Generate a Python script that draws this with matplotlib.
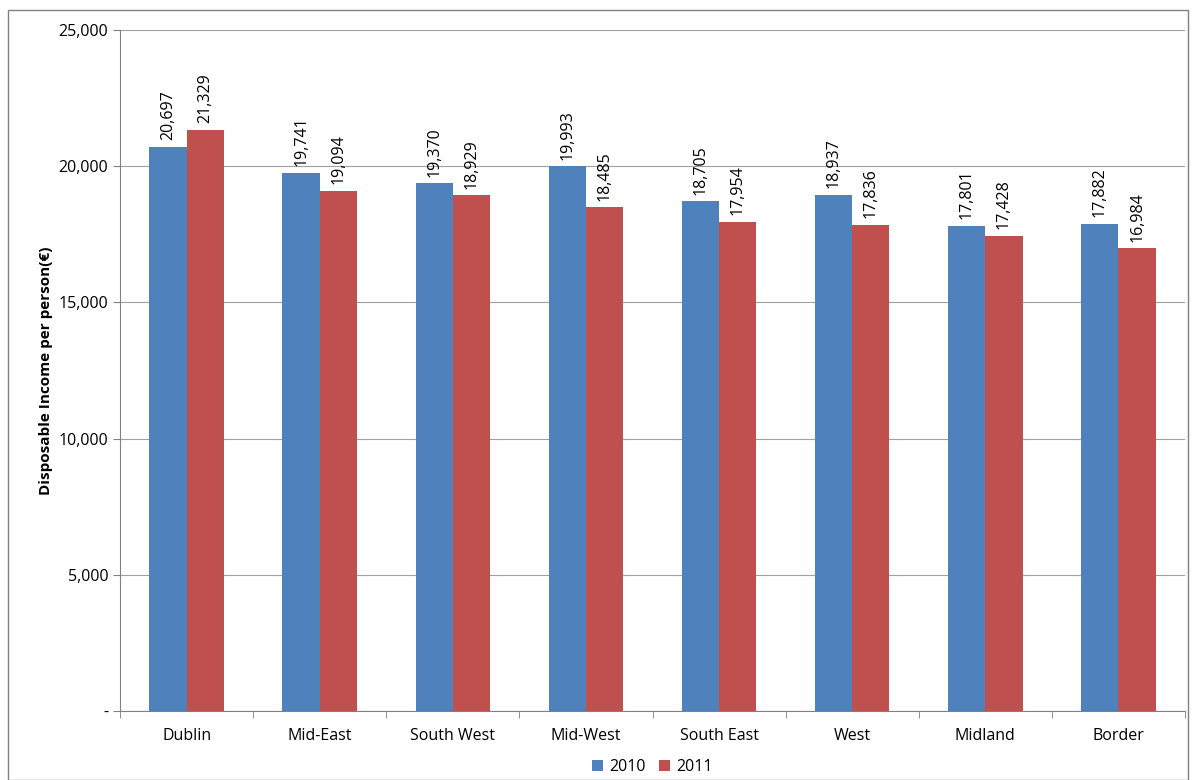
import matplotlib.pyplot as plt
import numpy as np
from matplotlib.patches import Rectangle
from matplotlib.ticker import FuncFormatter

regions = ['Dublin', 'Mid-East', 'South West', 'Mid-West', 'South East', 'West', 'Midland', 'Border']
income_2010 = [20697, 19741, 19370, 19993, 18705, 18937, 17801, 17882]
income_2011 = [21329, 19094, 18929, 18485, 17954, 17836, 17428, 16984]

plt.rcParams['font.family'] = ['Open Sans', 'DejaVu Sans']
fig = plt.figure(figsize=(11.96, 7.8), dpi=100)
fig.patches.append(Rectangle((8/1196, 0), 1180/1196, 1 - 10/780, transform=fig.transFigure,
                             fill=False, edgecolor='#808080', linewidth=1))
ax = fig.add_axes([120/1196, 69/780, 1065/1196, 681/780])

x = np.arange(len(regions))
w = 0.28
b1 = ax.bar(x - w/2, income_2010, w, color='#4F81BD', label='2010')
b2 = ax.bar(x + w/2, income_2011, w, color='#C0504D', label='2011')
for bars in (b1, b2):
    for r in bars:
        ax.text(r.get_x() + r.get_width()/2, r.get_height() + 250, f'{int(r.get_height()):,}',
                rotation=90, ha='center', va='bottom', fontsize=11.5)

ax.set_xlim(-0.5, len(regions) - 0.5)
ax.set_ylim(0, 25000)
ax.set_yticks(range(0, 25001, 5000))
ax.yaxis.set_major_formatter(FuncFormatter(lambda v, p: '-' if v == 0 else f'{int(v):,}'))
ax.grid(axis='y', color='#a0a0a0', linewidth=0.8)
ax.set_axisbelow(True)
ax.set_xticks(x)
ax.set_xticks(np.arange(-0.5, len(regions)), minor=True)
ax.set_xticklabels(regions, fontsize=11.5)
ax.tick_params(axis='x', which='major', length=0, pad=12)
ax.tick_params(axis='x', which='minor', length=5, color='#808080')
ax.tick_params(axis='y', labelsize=11.5, length=5, color='#808080')
for s in ['top', 'right']:
    ax.spines[s].set_visible(False)
for s in ['left', 'bottom']:
    ax.spines[s].set_color('#808080')
ax.set_ylabel('Disposable Income per person(€)', fontsize=11, fontweight='bold')
ax.legend(loc='upper center', bbox_to_anchor=(0.5, -0.05), ncol=2, frameon=False,
          fontsize=11.5, handlelength=0.7, handleheight=0.7, columnspacing=0.8, handletextpad=0.4)
fig.savefig('out.png', dpi=100)
